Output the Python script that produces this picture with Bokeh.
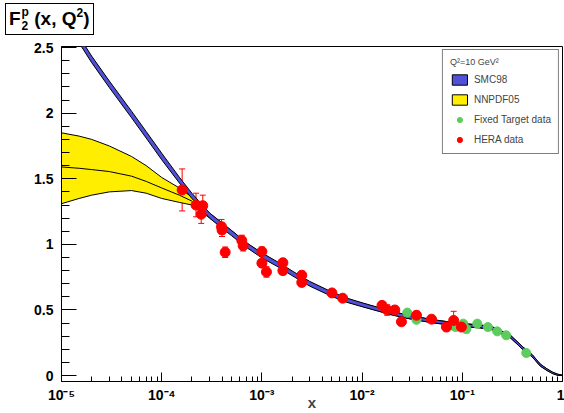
from bokeh.plotting import figure
from bokeh.layouts import column
from bokeh.models import (Range1d, FixedTicker, Legend, LegendItem, Div,
                          Whisker, ColumnDataSource, TeeHead)
from bokeh.embed import file_html
from bokeh.resources import INLINE

# ---------------- data ----------------
x_grid = [1e-5, 1.5e-5, 2e-5, 3e-5, 5e-5, 7e-5, 1e-4, 1.5e-4, 2e-4, 3e-4, 5e-4, 7e-4,
          1e-3, 1.5e-3, 2e-3, 3e-3, 5e-3, 7e-3, 1e-2, 2e-2, 3e-2, 5e-2, 0.07, 0.1,
          0.15, 0.2, 0.3, 0.4, 0.5, 0.6, 0.7, 0.8, 0.9, 1.0]

nn_mid = [1.59, 1.58, 1.57, 1.555, 1.52, 1.48, 1.43, 1.375, 1.33, 1.22, 1.09, 1.00,
          0.92, 0.84, 0.78, 0.70, 0.62, 0.575, 0.54, 0.475, 0.445, 0.415, 0.40, 0.385,
          0.375, 0.36, 0.30, 0.21, 0.15, 0.08, 0.045, 0.02, 0.006, 0.0]
nn_hi = [1.85, 1.825, 1.80, 1.75, 1.67, 1.60, 1.51, 1.43, 1.36, 1.238, 1.103, 1.012,
         0.932, 0.852, 0.792, 0.712, 0.632, 0.587, 0.552, 0.487, 0.457, 0.427, 0.412, 0.397,
         0.387, 0.372, 0.31, 0.22, 0.158, 0.087, 0.05, 0.024, 0.009, 0.002]
nn_lo = [1.31, 1.35, 1.375, 1.40, 1.41, 1.39, 1.35, 1.32, 1.30, 1.202, 1.077, 0.988,
         0.908, 0.828, 0.768, 0.688, 0.608, 0.563, 0.528, 0.463, 0.433, 0.403, 0.388, 0.373,
         0.363, 0.348, 0.29, 0.20, 0.142, 0.073, 0.04, 0.016, 0.003, 0.0]

smc_hi = [2.77, 2.585, 2.435, 2.245, 2.015, 1.86, 1.695, 1.512, 1.39, 1.24, 1.105, 1.013,
          0.935, 0.858, 0.798, 0.718, 0.637, 0.591, 0.555, 0.489, 0.458, 0.427, 0.411, 0.396,
          0.385, 0.37, 0.31, 0.22, 0.159, 0.088, 0.052, 0.026, 0.011, 0.004]
smc_lo = [2.72, 2.535, 2.385, 2.195, 1.965, 1.81, 1.645, 1.468, 1.35, 1.20, 1.065, 0.977,
          0.897, 0.822, 0.762, 0.682, 0.603, 0.559, 0.525, 0.461, 0.432, 0.403, 0.389, 0.374,
          0.365, 0.35, 0.29, 0.20, 0.141, 0.072, 0.038, 0.014, 0.001, 0.0]

hera_x = [1.6e-4, 2.2e-4, 2.57e-4, 2.48e-4, 3.95e-4, 4.0e-4, 4.3e-4, 6.3e-4, 6.5e-4,
          1.0e-3, 1.0e-3, 1.11e-3, 1.62e-3, 1.62e-3, 2.5e-3, 2.5e-3, 5.0e-3, 6.4e-3,
          1.58e-2, 1.78e-2, 2.12e-2, 2.47e-2, 3.49e-2, 4.93e-2, 6.95e-2, 8.2e-2, 9.8e-2]
hera_f2 = [1.415, 1.30, 1.295, 1.23, 1.135, 1.11, 0.94, 1.03, 0.99,
           0.945, 0.857, 0.79, 0.86, 0.80, 0.765, 0.71, 0.63, 0.59,
           0.535, 0.50, 0.50, 0.41, 0.46, 0.43, 0.37, 0.42, 0.37]
hera_err = [0.16, 0.09, 0.08, 0.07, 0.055, 0.05, 0.04, 0.04, 0.04,
            0.035, 0.03, 0.04, 0.03, 0.03, 0.03, 0.03, 0.02, 0.02,
            0.03, 0.04, 0.03, 0.02, 0.03, 0.02, 0.03, 0.07, 0.02]

fixed_x = [2.82e-2, 3.49e-2, 8.55e-2, 1.02e-1, 1.10e-1, 1.41e-1, 1.80e-1, 2.23e-1, 2.74e-1, 4.35e-1]
fixed_f2 = [0.48, 0.425, 0.37, 0.396, 0.355, 0.396, 0.37, 0.337, 0.307, 0.172]
fixed_err = [0.01, 0.01, 0.01, 0.01, 0.03, 0.01, 0.01, 0.01, 0.01, 0.01]

x_ticks = [1e-5, 1e-4, 1e-3, 1e-2, 1e-1, 1.0]
x_tick_labels = ["10\u207b\u2075", "10\u207b\u2074", "10\u207b\u00b3", "10\u207b\u00b2", "10\u207b\u00b9", "1"]
y_ticks = [0.0, 0.5, 1.0, 1.5, 2.0, 2.5]
y_tick_labels = ["0", "0.5", "1", "1.5", "2", "2.5"]

# ---------------- figure ----------------
FONT = "Liberation Sans"
p = figure(width=564, height=375, x_axis_type="log",
           x_range=Range1d(1e-5, 1.0), y_range=Range1d(-0.045, 2.508),
           output_backend="svg", toolbar_location=None,
           min_border_left=61, min_border_right=2, min_border_top=8, min_border_bottom=31)
p.grid.visible = False
p.outline_line_color = "black"
p.outline_line_width = 1
p.background_fill_color = "white"
p.border_fill_color = "white"

# bands
yel = p.patch(x_grid + x_grid[::-1], nn_hi + nn_lo[::-1],
              fill_color="#ffee00", line_color="black", line_width=1)
p.line(x_grid, nn_mid, line_color="black", line_width=1)
blu = p.patch(x_grid + x_grid[::-1], smc_hi + smc_lo[::-1],
              fill_color="#5050d8", line_color="black", line_width=1)

# data
hsrc = ColumnDataSource(dict(x=hera_x, y=hera_f2,
                             up=[a + b for a, b in zip(hera_f2, hera_err)],
                             lo=[a - b for a, b in zip(hera_f2, hera_err)]))
fsrc = ColumnDataSource(dict(x=fixed_x, y=fixed_f2,
                             up=[a + b for a, b in zip(fixed_f2, fixed_err)],
                             lo=[a - b for a, b in zip(fixed_f2, fixed_err)]))
GREEN = "#5ccd5c"
p.add_layout(Whisker(source=fsrc, base="x", upper="up", lower="lo", line_color=GREEN,
                     upper_head=TeeHead(size=6, line_color=GREEN),
                     lower_head=TeeHead(size=6, line_color=GREEN)))
p.add_layout(Whisker(source=hsrc, base="x", upper="up", lower="lo", line_color="red",
                     upper_head=TeeHead(size=6, line_color="red"),
                     lower_head=TeeHead(size=6, line_color="red")))
grn = p.scatter("x", "y", source=fsrc, size=9, fill_color=GREEN, line_color=GREEN)
red = p.scatter("x", "y", source=hsrc, size=10, fill_color="red", line_color="red")

# axes
xa = p.xaxis[0]
xa.ticker = FixedTicker(ticks=x_ticks,
                        minor_ticks=[m * 10.0 ** e for e in range(-5, 0) for m in range(2, 10)])
xa.major_label_overrides = dict(zip(x_ticks, x_tick_labels))
xa.major_tick_in = 9
xa.major_tick_out = 0
xa.minor_tick_in = 5
xa.minor_tick_out = 0
xa.major_label_standoff = 5
xa.axis_label = "x"
xa.axis_label_text_font = FONT
xa.axis_label_text_font_style = "bold"
xa.axis_label_text_font_size = "15px"
xa.axis_label_standoff = -12

ya = p.yaxis[0]
ya.ticker = FixedTicker(ticks=y_ticks, minor_ticks=[i / 10 for i in range(1, 25) if i % 5])
ya.major_label_overrides = dict(zip(y_ticks, y_tick_labels))
ya.major_tick_in = 15
ya.major_tick_out = 0
ya.minor_tick_in = 8
ya.minor_tick_out = 0
ya.major_label_standoff = 8

for ax in (xa, ya):
    ax.axis_line_color = "black"
    ax.major_tick_line_color = "black"
    ax.minor_tick_line_color = "black"
    ax.major_label_text_font = FONT
    ax.major_label_text_font_style = "bold"
    ax.major_label_text_font_size = "14px"
    ax.major_label_text_color = "black"

# legend
legend = Legend(items=[LegendItem(label="SMC98", renderers=[blu]),
                       LegendItem(label="NNPDF05", renderers=[yel]),
                       LegendItem(label="Fixed Target data", renderers=[grn]),
                       LegendItem(label="HERA data", renderers=[red])],
                location="top_right", title="Q\u00b2=10 GeV\u00b2")
legend.title_text_font = FONT
legend.title_text_font_style = "normal"
legend.title_text_font_size = "9px"
legend.title_standoff = 6
legend.label_text_font = FONT
legend.label_text_font_size = "10px"
legend.label_standoff = 5
legend.glyph_width = 19
legend.glyph_height = 13
legend.label_height = 13
legend.spacing = 7
legend.padding = 7
legend.margin = 3
legend.border_line_color = "black"
legend.border_line_width = 1
legend.background_fill_alpha = 1.0
p.add_layout(legend)

# title box  F_2^p (x, Q^2)
title_html = (
    '<div style="display:inline-block;margin:3px 0 0 5px;border:1px solid #000;'
    'padding:1px 4px 1px 3px;font-family:\'Liberation Sans\';font-weight:bold;'
    'font-size:19px;line-height:24px;color:#000;white-space:nowrap;background:#fff">'
    'F<span style="display:inline-block;vertical-align:-5px;font-size:12px;'
    'line-height:14px;margin-left:1px">p<br>2</span>'
    ' (x, Q<span style="font-size:12px;position:relative;top:-8px">2</span>)</div>'
)
title = Div(text=title_html, width=564, height=38, margin=(0, 0, 0, 0))

layout = column(title, p, spacing=0)

open("out.html", "w").write(file_html(layout, INLINE))
